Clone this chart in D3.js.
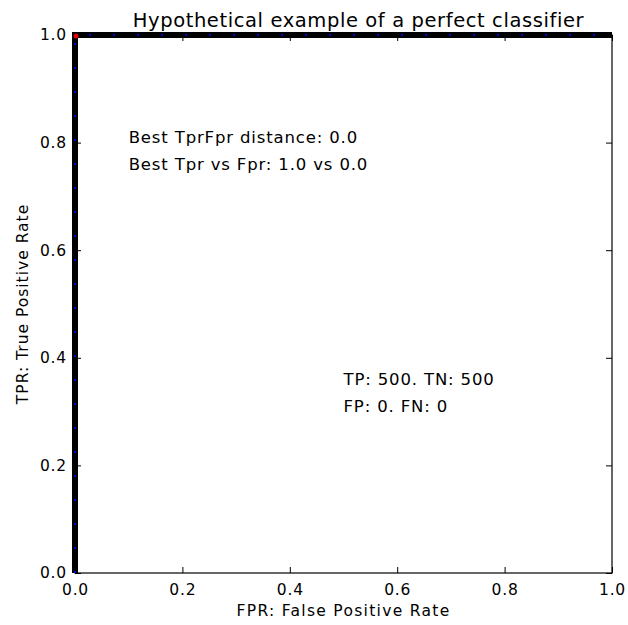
<!DOCTYPE html>
<html>
<head>
<meta charset="utf-8">
<script src="https://cdn.jsdelivr.net/npm/d3@7"></script>
<style>
  body { margin: 0; background: #fff; }
  text { font-family: "DejaVu Sans", sans-serif; }
</style>
</head>
<body>
<div id="chart"></div>
<script>
// ROC curve of a perfect classifier
const rocFpr = [0.0, 0.0, 0.0, 0.0, 0.0, 0.25, 0.5, 0.75, 1.0];
const rocTpr = [0.0, 0.25, 0.5, 0.75, 1.0, 1.0, 1.0, 1.0, 1.0];
const bestPoint = [0.0, 1.0];
const ticks = [0.0, 0.2, 0.4, 0.6, 0.8, 1.0];
const notes = [
  { x: 0.1, y: 0.8, text: 'Best TprFpr distance: 0.0' },
  { x: 0.1, y: 0.75, text: 'Best Tpr vs Fpr: 1.0 vs 0.0' },
  { x: 0.5, y: 0.35, text: 'TP: 500. TN: 500' },
  { x: 0.5, y: 0.3, text: 'FP: 0. FN: 0' }
];

const W = 628, H = 625;
const margin = { top: 35, right: 16, bottom: 52, left: 75 };
const width = W - margin.left - margin.right;
const height = H - margin.top - margin.bottom;

const svg = d3.select('#chart').append('svg')
  .attr('width', W)
  .attr('height', H);

const g = svg.append('g')
  .attr('transform', `translate(${margin.left},${margin.top})`);

const x = d3.scaleLinear().domain([0, 1]).range([0, width]);
const y = d3.scaleLinear().domain([0, 1]).range([height, 0]);

const fmt = d3.format('.1f');

// ticks inside, on all four sides (classic matplotlib look)
function styleAxis(sel) {
  sel.select('.domain').remove();
  sel.selectAll('line').attr('stroke', '#000');
  sel.selectAll('text')
    .attr('font-size', 15.5)
    .attr('letter-spacing', '0.8px')
    .attr('fill', '#000');
}

g.append('g')
  .attr('transform', `translate(0,${height})`)
  .call(d3.axisBottom(x).tickValues(ticks).tickFormat(fmt).tickSizeInner(-6).tickPadding(11))
  .call(styleAxis);

g.append('g')
  .call(d3.axisLeft(y).tickValues(ticks).tickFormat(fmt).tickSizeInner(-6).tickPadding(8))
  .call(styleAxis);

g.append('g')
  .call(d3.axisTop(x).tickValues(ticks).tickFormat('').tickSizeInner(-6))
  .call(styleAxis);

g.append('g')
  .attr('transform', `translate(${width},0)`)
  .call(d3.axisRight(y).tickValues(ticks).tickFormat('').tickSizeInner(-6))
  .call(styleAxis);

// frame
g.append('rect')
  .attr('width', width)
  .attr('height', height)
  .attr('fill', 'none')
  .attr('stroke', '#000')
  .attr('stroke-width', 1.2);

const pts = rocFpr.map((f, i) => [f, rocTpr[i]]);
const line = d3.line().x(d => x(d[0])).y(d => y(d[1]));

g.append('path')
  .datum(pts)
  .attr('fill', 'none')
  .attr('stroke', '#000')
  .attr('stroke-width', 6)
  .attr('d', line);

g.append('path')
  .datum(pts)
  .attr('fill', 'none')
  .attr('stroke', '#0000cc')
  .attr('stroke-width', 2)
  .attr('stroke-dasharray', '2,22')
  .attr('d', line);

g.append('circle')
  .attr('cx', x(bestPoint[0]) + 1)
  .attr('cy', y(bestPoint[1]) + 1)
  .attr('r', 2.5)
  .attr('fill', '#e00000');

g.selectAll('.note')
  .data(notes)
  .join('text')
  .attr('class', 'note')
  .attr('x', d => x(d.x))
  .attr('y', d => y(d.y))
  .attr('font-size', 16.5)
  .attr('letter-spacing', '0.85px')
  .attr('fill', '#000')
  .text(d => d.text);

svg.append('text')
  .attr('x', margin.left + width / 2 + 15)
  .attr('y', 27)
  .attr('text-anchor', 'middle')
  .attr('font-size', 19.5)
  .attr('letter-spacing', '0.6px')
  .text('Hypothetical example of a perfect classifier');

svg.append('text')
  .attr('x', margin.left + width / 2)
  .attr('y', 616)
  .attr('text-anchor', 'middle')
  .attr('font-size', 15.5)
  .attr('letter-spacing', '1.3px')
  .text('FPR: False Positive Rate');

svg.append('text')
  .attr('transform', `translate(28,${margin.top + height / 2}) rotate(-90)`)
  .attr('text-anchor', 'middle')
  .attr('font-size', 15.5)
  .attr('letter-spacing', '1px')
  .text('TPR: True Positive Rate');
</script>
</body>
</html>
